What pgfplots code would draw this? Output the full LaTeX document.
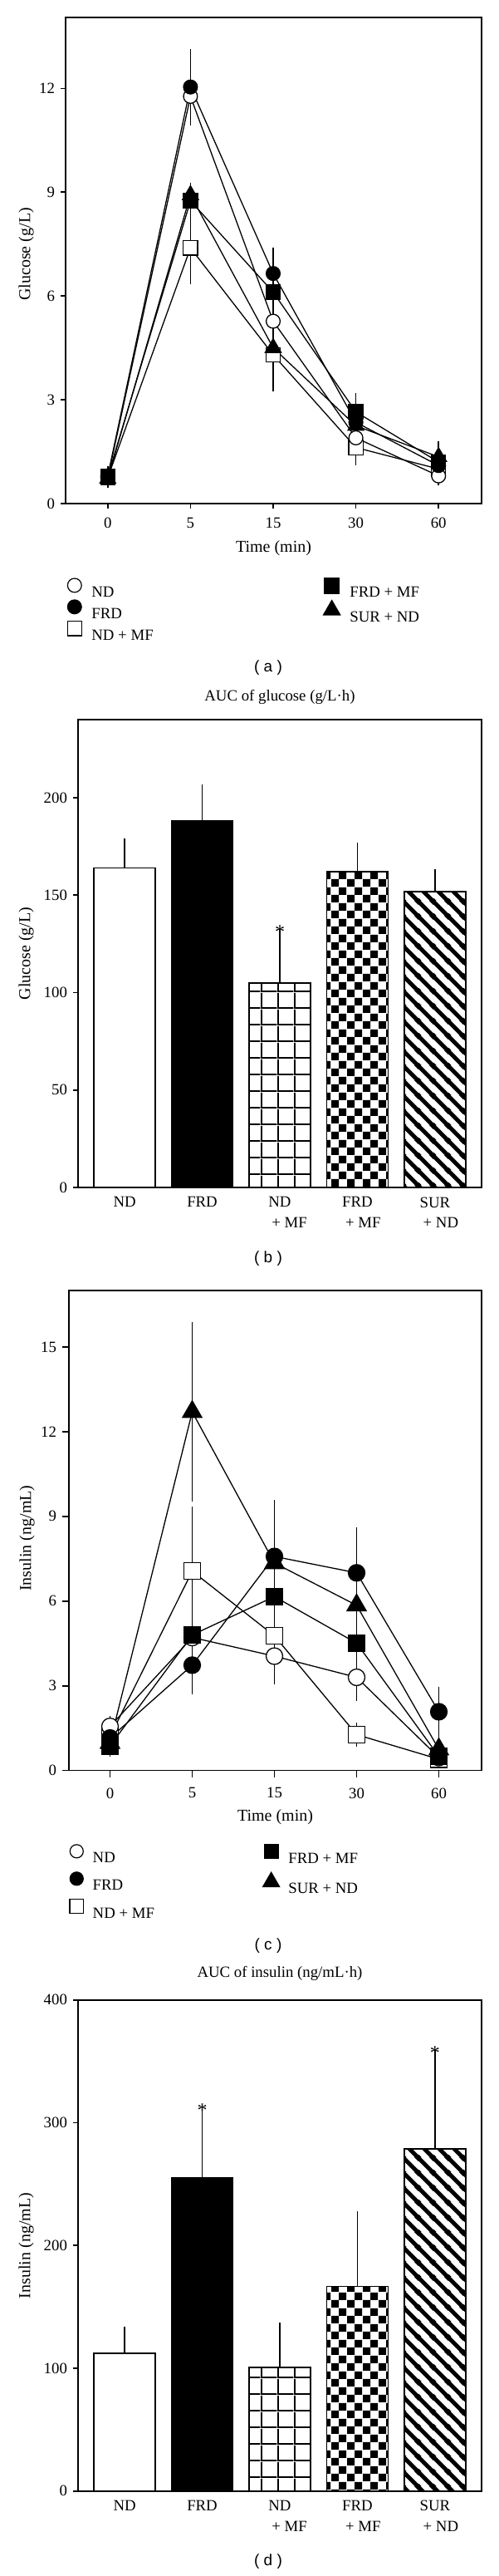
\documentclass[border=0pt]{standalone}
\usepackage{fontspec}
\setmainfont{Liberation Serif}
\newfontfamily\sansf{Liberation Sans}
\usepackage{pgfplots}
\pgfplotsset{compat=1.18}
\usetikzlibrary{patterns}

\newcommand\ff{\fontsize{9.4pt}{12.35pt}\selectfont}
\newcommand\lstrut{\rule[-3pt]{0pt}{12.2pt}}

\pgfdeclarepatternformonly{biggrid}{\pgfpointorigin}{\pgfpoint{9.8pt}{9.8pt}}{\pgfpoint{9.8pt}{9.8pt}}{%
  \pgfpathrectangle{\pgfpointorigin}{\pgfpoint{0.9pt}{9.8pt}}%
  \pgfpathrectangle{\pgfpointorigin}{\pgfpoint{9.8pt}{0.9pt}}%
  \pgfusepath{fill}}
\pgfdeclarepatternformonly{bigchecker}{\pgfpointorigin}{\pgfpoint{9.5pt}{9.5pt}}{\pgfpoint{9.5pt}{9.5pt}}{%
  \pgfpathrectangle{\pgfpointorigin}{\pgfpoint{4.75pt}{4.75pt}}%
  \pgfpathrectangle{\pgfpoint{4.75pt}{4.75pt}}{\pgfpoint{4.75pt}{4.75pt}}%
  \pgfusepath{fill}}
\pgfdeclarepatternformonly{bigstripes}{\pgfpointorigin}{\pgfpoint{9pt}{9pt}}{\pgfpoint{9pt}{9pt}}{%
  \pgfsetlinewidth{2.6pt}%
  \pgfpathmoveto{\pgfpoint{-1pt}{10pt}}\pgfpathlineto{\pgfpoint{10pt}{-1pt}}%
  \pgfpathmoveto{\pgfpoint{-2pt}{2pt}}\pgfpathlineto{\pgfpoint{2pt}{-2pt}}%
  \pgfpathmoveto{\pgfpoint{7pt}{11pt}}\pgfpathlineto{\pgfpoint{11pt}{7pt}}%
  \pgfusepath{stroke}}

\tikzset{astnode/.style={font=\fontsize{12pt}{12pt}\selectfont, anchor=base, inner sep=0pt, yshift=-3pt}}

\pgfplotsset{
  mystyle/.style={
    scale only axis,
    axis line style={line width=0.8pt},
    tick style={line width=0.8pt, black},
    tick align=outside,
    tick pos=left,
    major tick length=3pt,
    tick label style={font=\ff},
    label style={font=\ff},
    title style={font=\ff},
    /pgf/number format/assume math mode=true,
  },
  lineplot/.style={black, line width=0.65pt, forget plot,
    error bars/y dir=both, error bars/y explicit,
    error bars/error bar style={line width=0.8pt, solid},
    error bars/error mark options={line width=0.8pt, mark size=#1}},
  barplot/.style={ybar, bar width=0.79, bar shift=0pt, draw=black, line width=0.8pt, forget plot,
    error bars/y dir=plus, error bars/y explicit,
    error bars/error bar style={line width=0.8pt},
    error bars/error mark options={line width=0.8pt, mark size=3.2pt}},
  legaxis/.style={scale only axis, hide axis, width=10pt, height=10pt,
    xmin=0, xmax=1, ymin=0, ymax=1, anchor=north west,
    legend cell align=left,
    legend image code/.code={\draw[##1] plot coordinates {(0pt,3.1pt)};},
    legend style={draw=none, fill=none, inner sep=0pt, outer sep=0pt,
      at={(axis description cs:0,1)}, anchor=north west,
      font=\ff, nodes={inner xsep=0pt, inner ysep=0pt}, row sep=#1}},
  legaxis/.default=0.3pt,
}

\begin{document}
\begin{tikzpicture}
\path[use as bounding box] (0pt,0pt) rectangle (300pt,-1550pt);

% ---------------- (a) ----------------
\begin{axis}[mystyle, at={(39.5pt,-303pt)}, anchor=south west,
  width=250.5pt, height=292.5pt,
  xmin=-0.51, xmax=4.52, ymin=0, ymax=14.05,
  xtick={0,1,2,3,4}, xticklabels={0,5,15,30,60}, ytick={0,3,6,9,12},
  xticklabel style={yshift=-2pt},
  xlabel={Time (min)}, ylabel={Glucose (g/L)},
  every axis x label/.style={at={(axis description cs:0.5,-0.0923)}, anchor=center},
  every axis y label/.style={at={(axis description cs:-0.0948,0.513)}, anchor=center, rotate=90},
]
\addplot[lineplot=3.3pt, mark=square*, mark size=4.3pt, mark options={solid, fill=white, line width=0.65pt}]
 coordinates {(0,0.75) +- (0,0.1) (1,7.39) +- (0,0.9) (2,4.3) +- (0,0.9) (3,1.62) +- (0,0.35) (4,1.0) +- (0,0.15)};
\addplot[lineplot=3.3pt, mark=*, mark size=4.2pt, mark options={solid, fill=white, line width=0.65pt}]
 coordinates {(0,0.75) +- (0,0.1) (1,11.77) +- (0,0.69) (2,5.27) +- (0,0.3) (3,1.9) +- (0,0.25) (4,0.8) +- (0,0.12)};
\addplot[lineplot=3.3pt, mark=triangle*, mark size=5.5pt, mark options={solid, fill=black, line width=0.65pt}]
 coordinates {(0,0.72) +- (0,0.1) (1,8.92) +- (0,0.2) (2,4.5) +- (0,0.5) (3,2.25) +- (0,0.25) (4,1.35) +- (0,0.3)};
\addplot[lineplot=3.3pt, mark=square*, mark size=4.3pt, mark options={solid, fill=black, line width=0.65pt}]
 coordinates {(0,0.78) +- (0,0.12) (1,8.75) +- (0,0.34) (2,6.11) +- (0,0.45) (3,2.65) +- (0,0.38) (4,1.2) +- (0,0.2)};
\addplot[lineplot=3.3pt, mark=*, mark size=4.2pt, mark options={solid, fill=black, line width=0.65pt}]
 coordinates {(0,0.8) +- (0,0.12) (1,12.04) +- (0,0.95) (2,6.65) +- (0,0.6) (3,2.35) +- (0,0.3) (4,1.1) +- (0,0.2)};
\end{axis}
\begin{axis}[legaxis=0.3pt, at={(40.6pt,-348pt)}, legend style={column sep=6pt}]
\addlegendimage{only marks, black, mark=*, mark options={fill=white, line width=0.6pt}, mark size=4.2pt}
\addlegendentry{\lstrut ND}
\addlegendimage{only marks, black, mark=*, mark options={fill=black, line width=0.6pt}, mark size=4.2pt}
\addlegendentry{\lstrut FRD}
\addlegendimage{only marks, black, mark=square*, mark options={fill=white, line width=0.6pt}, mark size=4.3pt}
\addlegendentry{\lstrut ND + MF}
\end{axis}
\begin{axis}[legaxis=0.3pt, at={(194.8pt,-348pt)}, legend style={column sep=5.8pt}]
\addlegendimage{only marks, black, mark=square*, mark options={fill=black, line width=0.6pt}, mark size=4.5pt}
\addlegendentry{\lstrut FRD + MF}
\addlegendimage{only marks, black, mark=triangle*, mark options={fill=black, line width=0.6pt}, mark size=5.8pt}
\addlegendentry{\lstrut SUR + ND}
\end{axis}
\node[font=\sansf\fontsize{9.5pt}{11pt}\selectfont] at (161.5pt,-402pt) {( a )};

% ---------------- (b) ----------------
\begin{axis}[mystyle, at={(47pt,-714.5pt)}, anchor=south west,
  width=243pt, height=281.5pt,
  xmin=-0.6, xmax=4.6, ymin=0, ymax=240,
  xtick={0,1,2,3,4}, ytick={0,50,100,150,200},
  xtick style={draw=none},
  xticklabels={ND, FRD, {ND\\\hspace*{2pt}\rlap{+ MF}}, {FRD\\\hspace*{2pt}\rlap{+ MF}}, {SUR\\\hspace*{2pt}\rlap{+ ND}}},
  xticklabel style={align=left, yshift=0.7pt},
  title={AUC of glucose (g/L·h)},
  title style={at={(axis description cs:0.5,1.0266)}, anchor=center},
  ylabel={Glucose (g/L)},
  every axis y label/.style={at={(axis description cs:-0.1282,0.5)}, anchor=center, rotate=90},
]
\addplot[barplot, fill=white] coordinates {(0,164) +- (0,12.2)};
\addplot[barplot, fill=black] coordinates {(1,188) +- (0,15.9)};
\addplot[barplot, pattern=biggrid, pattern color=black] coordinates {(2,104.8) +- (0,25.4)};
\addplot[barplot, pattern=bigchecker, pattern color=black] coordinates {(3,162.1) +- (0,12)};
\addplot[barplot, pattern=bigstripes, pattern color=black] coordinates {(4,151.8) +- (0,8.7)};
\node[astnode] at (axis cs:2,130.2) {*};
\end{axis}
\node[font=\sansf\fontsize{9.5pt}{11pt}\selectfont] at (161.5pt,-757.5pt) {( b )};

% ---------------- (c) ----------------
\begin{axis}[mystyle, at={(41.5pt,-1065.3pt)}, anchor=south west,
  width=248.5pt, height=288.8pt,
  xmin=-0.5, xmax=4.52, ymin=0, ymax=17,
  major tick length=4pt,
  xtick={0,1,2,3,4}, xticklabels={0,5,15,30,60}, ytick={0,3,6,9,12,15},
  xticklabel style={yshift=-2.9pt},
  xlabel={Time (min)}, ylabel={Insulin (ng/mL)},
  every axis x label/.style={at={(axis description cs:0.5,-0.0976)}, anchor=center},
  every axis y label/.style={at={(axis description cs:-0.1016,0.484)}, anchor=center, rotate=90},
]
\addplot[lineplot=3.9pt, mark=square*, mark size=5pt, mark options={solid, fill=white, line width=0.65pt}]
 coordinates {(0,1.2) +- (0,0.2) (1,7.06) +- (0,2.05) (2,4.77) +- (0,0.73) (3,1.27) +- (0,0.2) (4,0.4) +- (0,0.1)};
\addplot[lineplot=3.9pt, mark=*, mark size=5pt, mark options={solid, fill=white, line width=0.65pt}]
 coordinates {(0,1.56) +- (0,0.15) (1,4.71) +- (0,0.85) (2,4.05) +- (0,0.78) (3,3.3) +- (0,0.6) (4,0.46) +- (0,0.1)};
\addplot[lineplot=3.9pt, mark=square*, mark size=5pt, mark options={solid, fill=black, line width=0.65pt}]
 coordinates {(0,0.87) +- (0,0.15) (1,4.8) +- (0,1.33) (2,6.16) +- (0,0.42) (3,4.51) +- (0,0.5) (4,0.5) +- (0,0.1)};
\addplot[lineplot=3.9pt, mark=triangle*, mark size=6.7pt, mark options={solid, fill=black, line width=0.65pt}]
 coordinates {(0,0.98) +- (0,0.2) (1,12.7) +- (0,2.95) (2,7.35) +- (0,1.22) (3,5.85) +- (0,1.85) (4,0.75) +- (0,0.3)};
\addplot[lineplot=3.9pt, mark=*, mark size=5pt, mark options={solid, fill=black, line width=0.65pt}]
 coordinates {(0,1.15) +- (0,0.2) (1,3.73) +- (0,0.8) (2,7.58) +- (0,1.76) (3,7.0) +- (0,1.39) (4,2.08) +- (0,0.66)};
\end{axis}
\begin{axis}[legaxis=4.05pt, at={(41.95pt,-1109.9pt)}, legend style={column sep=5.5pt}]
\addlegendimage{only marks, black, mark=*, mark options={fill=white, line width=0.6pt}, mark size=4pt}
\addlegendentry{\lstrut ND}
\addlegendimage{only marks, black, mark=*, mark options={fill=black, line width=0.6pt}, mark size=4pt}
\addlegendentry{\lstrut FRD}
\addlegendimage{only marks, black, mark=square*, mark options={fill=white, line width=0.6pt}, mark size=4.2pt}
\addlegendentry{\lstrut ND + MF}
\end{axis}
\begin{axis}[legaxis=4.05pt, at={(158.3pt,-1109.9pt)}, legend style={column sep=5.3pt}]
\addlegendimage{only marks, black, mark=square*, mark options={fill=black, line width=0.6pt}, mark size=4.2pt}
\addlegendentry{\lstrut FRD + MF}
\addlegendimage{only marks, black, mark=triangle*, mark options={fill=black, line width=0.6pt}, mark size=5.8pt}
\addlegendentry{\lstrut SUR + ND}
\end{axis}
\node[font=\sansf\fontsize{9.5pt}{11pt}\selectfont] at (161.5pt,-1171pt) {( c )};

% ---------------- (d) ----------------
\begin{axis}[mystyle, at={(47pt,-1498.85pt)}, anchor=south west,
  width=243pt, height=295.5pt,
  xmin=-0.6, xmax=4.6, ymin=0, ymax=400,
  xtick={0,1,2,3,4}, ytick={0,100,200,300,400},
  xtick style={draw=none},
  xticklabels={ND, FRD, {ND\\\hspace*{2pt}\rlap{+ MF}}, {FRD\\\hspace*{2pt}\rlap{+ MF}}, {SUR\\\hspace*{2pt}\rlap{+ ND}}},
  xticklabel style={align=left, yshift=0.7pt},
  title={AUC of insulin (ng/mL·h)},
  title style={at={(axis description cs:0.5,1.0333)}, anchor=center},
  ylabel={Insulin (ng/mL)},
  every axis y label/.style={at={(axis description cs:-0.1282,0.4995)}, anchor=center, rotate=90},
]
\addplot[barplot, fill=white] coordinates {(0,112.3) +- (0,17.5)};
\addplot[barplot, fill=black] coordinates {(1,255.1) +- (0,54)};
\addplot[barplot, pattern=biggrid, pattern color=black] coordinates {(2,100.8) +- (0,32)};
\addplot[barplot, pattern=bigchecker, pattern color=black] coordinates {(3,166.6) +- (0,56.8)};
\addplot[barplot, pattern=bigstripes, pattern color=black] coordinates {(4,278.6) +- (0,77)};
\node[astnode] at (axis cs:1,309.1) {*};
\node[astnode] at (axis cs:4,355.6) {*};
\end{axis}
\node[font=\sansf\fontsize{9.5pt}{11pt}\selectfont] at (161.5pt,-1541.5pt) {( d )};
\end{tikzpicture}
\end{document}
